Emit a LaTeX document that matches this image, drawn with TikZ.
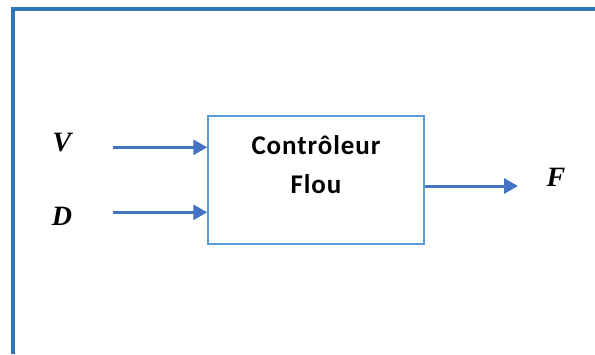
\documentclass[tikz,border=0pt]{standalone}
\usepackage{fontspec}
\setmainfont{Liberation Serif}
\newfontfamily\boxfont[LetterSpace=3.5]{Carlito}
\usetikzlibrary{arrows.meta}
\definecolor{framec}{RGB}{46,117,182}
\definecolor{boxc}{RGB}{91,155,213}
\definecolor{arrc}{RGB}{68,114,196}
\tikzset{
  blockbox/.style={draw=boxc, line width=1.5pt, minimum width=216pt, minimum height=128pt, inner sep=0pt},
  blocktext/.style={font=\boxfont\bfseries\fontsize{27}{30}\selectfont, anchor=base, inner sep=0pt},
  sig/.style={draw=arrc, line width=3pt, -{Triangle[length=14pt,width=15pt]}},
  varlabel/.style={font=\bfseries\itshape\fontsize{28}{30}\selectfont, anchor=base, inner sep=0pt}
}
\begin{document}
\begin{tikzpicture}[x=1pt,y=-1pt]
\useasboundingbox (0,0) rectangle (595,354);
% outer frame
\draw[framec, line width=4.2pt] (12.8,354) -- (12.8,9) -- (595,9);
% controller block
\node[blockbox] (box) at (316,179.8) {};
\node[blocktext] (t1) at (316,154.3) {Contrôleur};
\node[blocktext] (t2) at (316,193.3) {Flou};
% inputs and output
\coordinate (vin) at (112.7,147.3);
\coordinate (din) at (112.7,212.3);
\coordinate (fout) at (518,186);
\draw[sig] (vin) -- (vin -| box.west);
\draw[sig] (din) -- (din -| box.west);
\draw[sig] (fout -| box.east) -- (fout);
% signal names
\node[varlabel] (lv) at (62,151.7) {V};
\node[varlabel] (ld) at (62,225) {D};
\node[varlabel] (lf) at (556,186.7) {F};
\end{tikzpicture}
\end{document}
